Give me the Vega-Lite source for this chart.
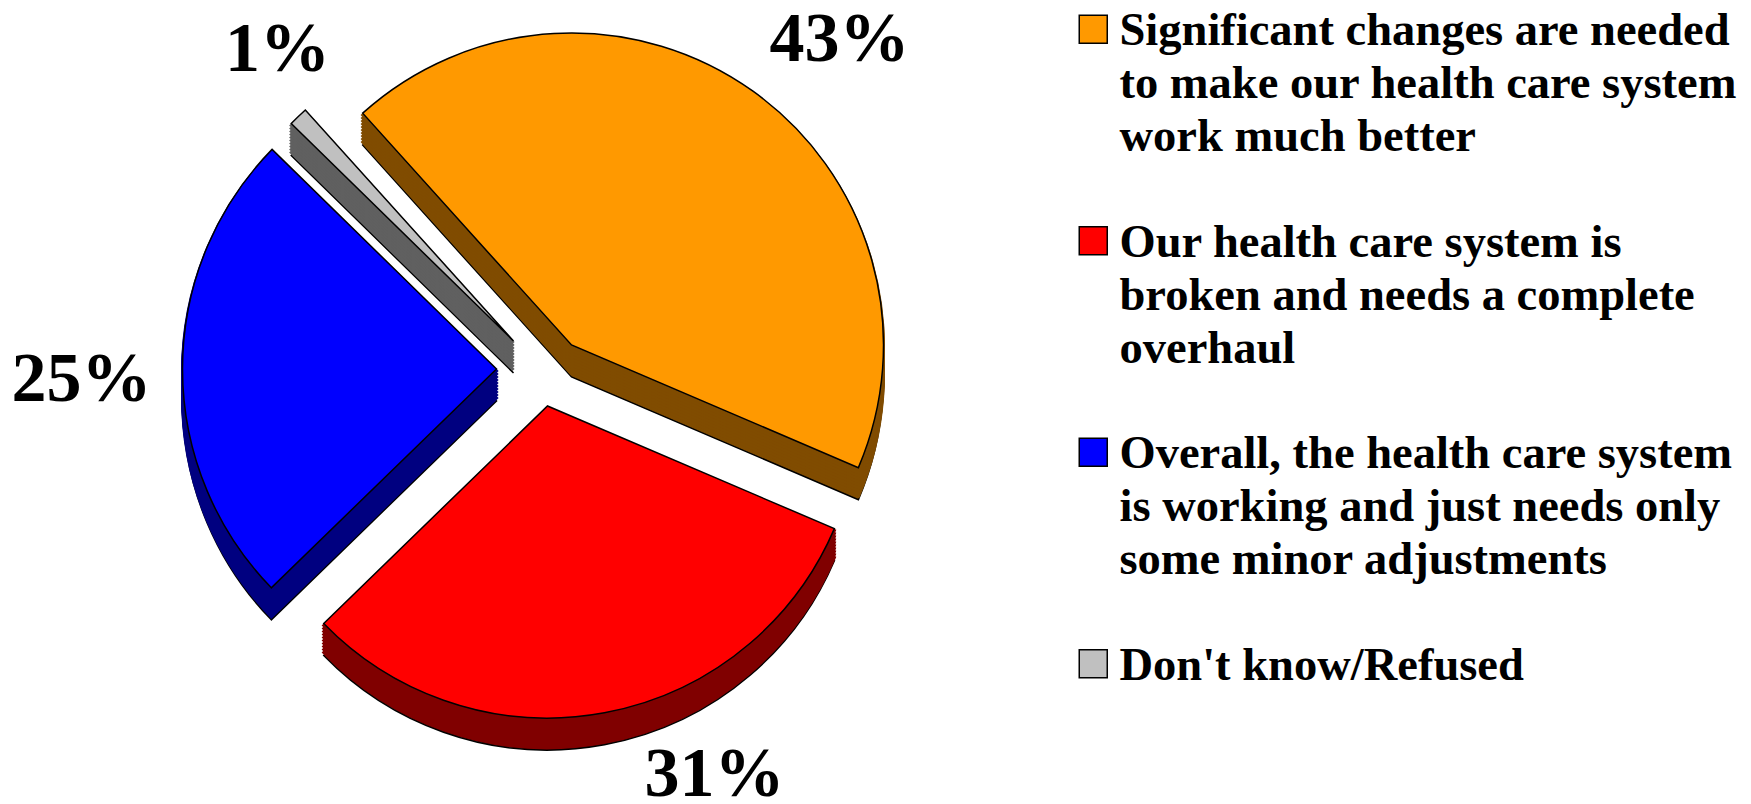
{
 "$schema":"https://vega.github.io/schema/vega-lite/v6.json",
 "width":1751,"height":804,"autosize":"none","padding":0,"background":"white",
 "data":{"values":[
  {"answer":"Significant changes are needed\nto make our health care system\nwork much better","value":0.431,"order":1},
  {"answer":"Our health care system is\nbroken and needs a complete\noverhaul","value":0.313,"order":2},
  {"answer":"Overall, the health care system\nis working and just needs only\nsome minor adjustments","value":0.246,"order":3},
  {"answer":"Don't know/Refused","value":0.01,"order":4}
 ]},
 "transform":[{"stack":"value","sort":[{"field":"order","order":"ascending"}],"as":["t0","t1"]}],
 "encoding":{
  "theta":{"field":"t0","type":"quantitative","scale":{"domain":[0,1],"range":[5.55,11.833]}},
  "theta2":{"field":"t1"}
 },
 "layer":[
  {"transform":[{"filter":"datum.order==1"}],"layer":[
   {"mark":{"type":"arc","outerRadius":312,"xOffset":-304,"yOffset":-25,"fill":"#804C00","stroke":"black","strokeWidth":1.5}},
   {"mark":{"type":"arc","outerRadius":312,"xOffset":-304,"yOffset":-28,"fill":"#804C00","stroke":"#804C00","strokeWidth":3}},
   {"mark":{"type":"arc","outerRadius":312,"xOffset":-304,"yOffset":-31,"fill":"#804C00","stroke":"#804C00","strokeWidth":3}},
   {"mark":{"type":"arc","outerRadius":312,"xOffset":-304,"yOffset":-34,"fill":"#804C00","stroke":"#804C00","strokeWidth":3}},
   {"mark":{"type":"arc","outerRadius":312,"xOffset":-304,"yOffset":-37,"fill":"#804C00","stroke":"#804C00","strokeWidth":3}},
   {"mark":{"type":"arc","outerRadius":312,"xOffset":-304,"yOffset":-40,"fill":"#804C00","stroke":"#804C00","strokeWidth":3}},
   {"mark":{"type":"arc","outerRadius":312,"xOffset":-304,"yOffset":-43,"fill":"#804C00","stroke":"#804C00","strokeWidth":3}},
   {"mark":{"type":"arc","outerRadius":312,"xOffset":-304,"yOffset":-46,"fill":"#804C00","stroke":"#804C00","strokeWidth":3}},
   {"mark":{"type":"arc","outerRadius":312,"xOffset":-304,"yOffset":-49,"fill":"#804C00","stroke":"#804C00","strokeWidth":3}},
   {"mark":{"type":"arc","outerRadius":312,"xOffset":-304,"yOffset":-52,"fill":"#804C00","stroke":"#804C00","strokeWidth":3}},
   {"mark":{"type":"arc","outerRadius":312,"xOffset":-304,"yOffset":-55,"fill":"#804C00","stroke":"#804C00","strokeWidth":3}},
   {"mark":{"type":"arc","outerRadius":312,"xOffset":-304,"yOffset":-57,"stroke":"black","strokeWidth":1.5},"encoding":{"color":{"field":"answer","type":"nominal","sort":{"field":"order"},"scale":{"range":["#FF9900","#FF0000","#0000FF","#C0C0C0"]},
    "legend":{"title":null,"orient":"none","legendX":1070,"legendY":6,"symbolType":"square","symbolSize":784,"symbolStrokeColor":"black","symbolStrokeWidth":1.5,"labelFont":"Liberation Serif","labelFontWeight":"bold","labelFontSize":46.5,"labelColor":"black","labelLimit":0,"labelExpr":"split(datum.label,'\\n')","labelBaseline":"alphabetic","labelOffset":3,"rowPadding":56.5,"symbolOpacity":1}}}},
   {"mark":{"type":"text","radius":0,"dx":-36,"dy":-362,"font":"Liberation Serif","fontWeight":"bold","fontSize":70,"baseline":"middle","color":"black"},"encoding":{"text":{"field":"value","format":".0%"}}}
  ]},
  {"transform":[{"filter":"datum.order==2"}],"layer":[
   {"mark":{"type":"arc","outerRadius":312,"xOffset":-328,"yOffset":36,"fill":"#800000","stroke":"black","strokeWidth":1.5}},
   {"mark":{"type":"arc","outerRadius":312,"xOffset":-328,"yOffset":33,"fill":"#800000","stroke":"#800000","strokeWidth":3}},
   {"mark":{"type":"arc","outerRadius":312,"xOffset":-328,"yOffset":30,"fill":"#800000","stroke":"#800000","strokeWidth":3}},
   {"mark":{"type":"arc","outerRadius":312,"xOffset":-328,"yOffset":27,"fill":"#800000","stroke":"#800000","strokeWidth":3}},
   {"mark":{"type":"arc","outerRadius":312,"xOffset":-328,"yOffset":24,"fill":"#800000","stroke":"#800000","strokeWidth":3}},
   {"mark":{"type":"arc","outerRadius":312,"xOffset":-328,"yOffset":21,"fill":"#800000","stroke":"#800000","strokeWidth":3}},
   {"mark":{"type":"arc","outerRadius":312,"xOffset":-328,"yOffset":18,"fill":"#800000","stroke":"#800000","strokeWidth":3}},
   {"mark":{"type":"arc","outerRadius":312,"xOffset":-328,"yOffset":15,"fill":"#800000","stroke":"#800000","strokeWidth":3}},
   {"mark":{"type":"arc","outerRadius":312,"xOffset":-328,"yOffset":12,"fill":"#800000","stroke":"#800000","strokeWidth":3}},
   {"mark":{"type":"arc","outerRadius":312,"xOffset":-328,"yOffset":9,"fill":"#800000","stroke":"#800000","strokeWidth":3}},
   {"mark":{"type":"arc","outerRadius":312,"xOffset":-328,"yOffset":6,"fill":"#800000","stroke":"#800000","strokeWidth":3}},
   {"mark":{"type":"arc","outerRadius":312,"xOffset":-328,"yOffset":4,"stroke":"black","strokeWidth":1.5},"encoding":{"color":{"field":"answer","type":"nominal","sort":{"field":"order"}}}},
   {"mark":{"type":"text","radius":0,"dx":-161,"dy":373,"font":"Liberation Serif","fontWeight":"bold","fontSize":70,"baseline":"middle","color":"black"},"encoding":{"text":{"field":"value","format":".0%"}}}
  ]},
  {"transform":[{"filter":"datum.order==3"}],"layer":[
   {"mark":{"type":"arc","outerRadius":314,"xOffset":-379,"yOffset":-1,"fill":"#000080","stroke":"black","strokeWidth":1.5}},
   {"mark":{"type":"arc","outerRadius":314,"xOffset":-379,"yOffset":-4,"fill":"#000080","stroke":"#000080","strokeWidth":3}},
   {"mark":{"type":"arc","outerRadius":314,"xOffset":-379,"yOffset":-7,"fill":"#000080","stroke":"#000080","strokeWidth":3}},
   {"mark":{"type":"arc","outerRadius":314,"xOffset":-379,"yOffset":-10,"fill":"#000080","stroke":"#000080","strokeWidth":3}},
   {"mark":{"type":"arc","outerRadius":314,"xOffset":-379,"yOffset":-13,"fill":"#000080","stroke":"#000080","strokeWidth":3}},
   {"mark":{"type":"arc","outerRadius":314,"xOffset":-379,"yOffset":-16,"fill":"#000080","stroke":"#000080","strokeWidth":3}},
   {"mark":{"type":"arc","outerRadius":314,"xOffset":-379,"yOffset":-19,"fill":"#000080","stroke":"#000080","strokeWidth":3}},
   {"mark":{"type":"arc","outerRadius":314,"xOffset":-379,"yOffset":-22,"fill":"#000080","stroke":"#000080","strokeWidth":3}},
   {"mark":{"type":"arc","outerRadius":314,"xOffset":-379,"yOffset":-25,"fill":"#000080","stroke":"#000080","strokeWidth":3}},
   {"mark":{"type":"arc","outerRadius":314,"xOffset":-379,"yOffset":-28,"fill":"#000080","stroke":"#000080","strokeWidth":3}},
   {"mark":{"type":"arc","outerRadius":314,"xOffset":-379,"yOffset":-31,"fill":"#000080","stroke":"#000080","strokeWidth":3}},
   {"mark":{"type":"arc","outerRadius":314,"xOffset":-379,"yOffset":-33,"stroke":"black","strokeWidth":1.5},"encoding":{"color":{"field":"answer","type":"nominal","sort":{"field":"order"}}}},
   {"mark":{"type":"text","radius":0,"dx":-794,"dy":-22,"font":"Liberation Serif","fontWeight":"bold","fontSize":70,"baseline":"middle","color":"black"},"encoding":{"text":{"field":"value","format":".0%"}}}
  ]},
  {"transform":[{"filter":"datum.order==4"}],"layer":[
   {"mark":{"type":"arc","outerRadius":311,"xOffset":-362,"yOffset":-29,"fill":"#606060","stroke":"black","strokeWidth":1.5}},
   {"mark":{"type":"arc","outerRadius":311,"xOffset":-362,"yOffset":-32,"fill":"#606060","stroke":"#606060","strokeWidth":3}},
   {"mark":{"type":"arc","outerRadius":311,"xOffset":-362,"yOffset":-35,"fill":"#606060","stroke":"#606060","strokeWidth":3}},
   {"mark":{"type":"arc","outerRadius":311,"xOffset":-362,"yOffset":-38,"fill":"#606060","stroke":"#606060","strokeWidth":3}},
   {"mark":{"type":"arc","outerRadius":311,"xOffset":-362,"yOffset":-41,"fill":"#606060","stroke":"#606060","strokeWidth":3}},
   {"mark":{"type":"arc","outerRadius":311,"xOffset":-362,"yOffset":-44,"fill":"#606060","stroke":"#606060","strokeWidth":3}},
   {"mark":{"type":"arc","outerRadius":311,"xOffset":-362,"yOffset":-47,"fill":"#606060","stroke":"#606060","strokeWidth":3}},
   {"mark":{"type":"arc","outerRadius":311,"xOffset":-362,"yOffset":-50,"fill":"#606060","stroke":"#606060","strokeWidth":3}},
   {"mark":{"type":"arc","outerRadius":311,"xOffset":-362,"yOffset":-53,"fill":"#606060","stroke":"#606060","strokeWidth":3}},
   {"mark":{"type":"arc","outerRadius":311,"xOffset":-362,"yOffset":-56,"fill":"#606060","stroke":"#606060","strokeWidth":3}},
   {"mark":{"type":"arc","outerRadius":311,"xOffset":-362,"yOffset":-59,"fill":"#606060","stroke":"#606060","strokeWidth":3}},
   {"mark":{"type":"arc","outerRadius":311,"xOffset":-362,"yOffset":-61,"stroke":"black","strokeWidth":1.5},"encoding":{"color":{"field":"answer","type":"nominal","sort":{"field":"order"}}}},
   {"mark":{"type":"text","radius":0,"dx":-598,"dy":-352,"font":"Liberation Serif","fontWeight":"bold","fontSize":70,"baseline":"middle","color":"black"},"encoding":{"text":{"field":"value","format":".0%"}}}
  ]}
 ],
 "config":{"view":{"stroke":null},"style":{"guide-label":{"lineHeight":53,"dy":16}}}
}
